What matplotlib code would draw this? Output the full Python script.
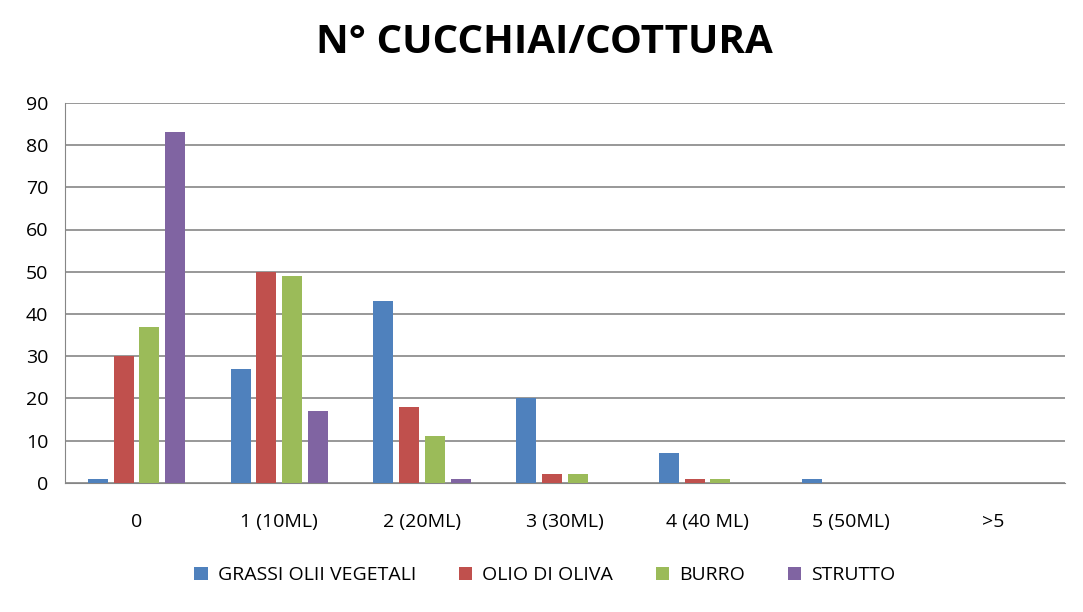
import matplotlib
matplotlib.use("Agg")
import matplotlib.pyplot as plt
import numpy as np

categories = ["0", "1 (10ML)", "2 (20ML)", "3 (30ML)", "4 (40 ML)", "5 (50ML)", ">5"]
series_names = ["GRASSI OLII VEGETALI", "OLIO DI OLIVA", "BURRO", "STRUTTO"]
grassi = [1, 27, 43, 20, 7, 1, 0]
olio = [30, 50, 18, 2, 1, 0, 0]
burro = [37, 49, 11, 2, 1, 0, 0]
strutto = [83, 17, 1, 0, 0, 0, 0]
colors = ["#4F81BD", "#C0504D", "#9BBB59", "#8064A2"]

plt.rcParams['font.family'] = ['Open Sans', 'DejaVu Sans']
fig = plt.figure(figsize=(10.83, 6.12), dpi=100)
ax = fig.add_axes([0.06, 0.211, 0.923, 0.621])
x = np.arange(len(categories))
w = 0.14
step = 0.18
for i, (vals, name) in enumerate(zip([grassi, olio, burro, strutto], series_names)):
    ax.bar(x + (i - 1.5) * step, vals, w, color=colors[i], label=name, zorder=3)
ax.set_xlim(-0.5, len(categories) - 0.5)
ax.set_ylim(0, 90)
ax.set_yticks(range(0, 91, 10))
ax.set_xticks(x)
ax.set_xticklabels(categories)
ax.tick_params(axis='both', labelsize=14, length=0)
ax.tick_params(axis='x', pad=22)
ax.tick_params(axis='y', pad=12)
ax.yaxis.grid(True, color='#868686', linewidth=1.2, zorder=0)
for s in ['top', 'right']:
    ax.spines[s].set_visible(False)
ax.spines['left'].set_color('#868686')
ax.spines['bottom'].set_color('#868686')
fig.text(0.503, 0.93, "N° CUCCHIAI/COTTURA", fontsize=29, fontweight='bold', ha='center', va='center')
fig.legend(loc='center', ncol=4, frameon=False, fontsize=14,
           bbox_to_anchor=(0.503, 0.06), handlelength=0.7, handleheight=0.7,
           handletextpad=0.5, columnspacing=2.2)
fig.savefig("out.png", dpi=100)
